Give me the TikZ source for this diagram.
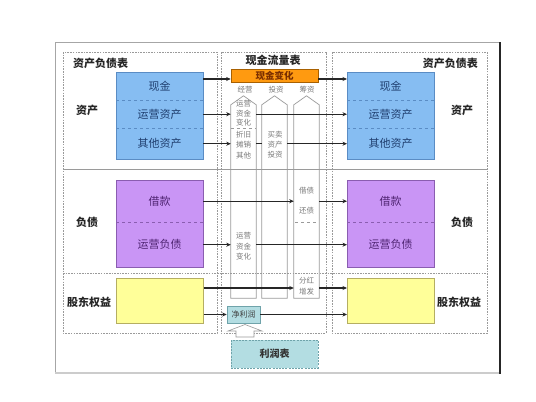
\documentclass[tikz,border=0pt]{standalone}
\usepackage{fontspec}
\newfontfamily\cjk{Noto Sans CJK SC}
\usetikzlibrary{arrows.meta,calc}
\definecolor{bluefill}{HTML}{86BDF2}
\definecolor{blueline}{HTML}{5A8CC4}
\definecolor{bluetext}{HTML}{1F3E6E}
\definecolor{purpfill}{HTML}{C995F5}
\definecolor{purpline}{HTML}{8A5DB0}
\definecolor{purptext}{HTML}{4F2472}
\definecolor{yellowfill}{HTML}{FFFF99}
\definecolor{yellowline}{HTML}{B5AE62}
\definecolor{orangefill}{HTML}{FF9A10}
\definecolor{orangeline}{HTML}{A86000}
\definecolor{orangetext}{HTML}{7A2E00}
\definecolor{tealfill}{HTML}{B3DDE2}
\definecolor{tealline}{HTML}{6FA3AA}
\definecolor{grayline}{HTML}{9A9A9A}
\definecolor{graytext}{HTML}{7A7A7A}
\begin{document}
\begin{tikzpicture}[x=1pt,y=-1pt,
  every node/.style={font=\cjk, inner sep=0pt},
  panel/.style={draw=grayline, dash pattern=on 1.6pt off 1.1pt, line width=0.6pt},
  cellbox/.style={minimum width=87pt, inner sep=0pt, anchor=north west, font=\cjk\fontsize{11}{13}\selectfont},
  bluecell/.style={cellbox, fill=bluefill, text=bluetext},
  purpcell/.style={cellbox, fill=purpfill, text=purptext},
  label/.style={font=\cjk\bfseries\fontsize{11}{13}\selectfont, text=black!85},
  coltext/.style={font=\cjk\fontsize{7.5}{10}\selectfont, text=graytext, align=center},
  colbox/.style={minimum width=25pt, minimum height=193pt, inner sep=0pt},
  colline/.style={draw=grayline, line width=0.7pt},
  arr/.style={line width=1.1pt, draw=black!85, -{Stealth[length=4.5pt,width=4pt]}},
  ln/.style={line width=1.1pt, draw=black!85}]
\useasboundingbox (0,0) rectangle (536,402);
\fill[white] (0,0) rectangle (536,402);
% outer frame
\draw[black!35, line width=0.6pt] (55,42) rectangle (500,373);
\draw[black!20, line width=2pt] (55,373) -- (500,373);
\draw[black!85, line width=1.6pt] (500,42) -- (500,374);
% panels
\draw[panel] (63,52) rectangle (217,333);
\draw[panel] (221,52) rectangle (326,333);
\draw[panel] (332,52) rectangle (487,333);
\draw[grayline, line width=0.6pt] (63,169) -- (487,169);
\draw[panel] (63,273) -- (487,273);
% row coordinates
\coordinate (rc) at (0,79);
\coordinate (re1) at (0,288);
% labels
\node[label, anchor=west] (tl) at (73,63) {资产负债表};
\node[label, anchor=east] (tr) at (478,63) {资产负债表};
\node[label] (mt) at (273,60) {现金流量表};
\node[label] (la) at (87,110) {资产};
\node[label] (ra) at (462,110) {资产};
\node[label] (ll) at (87,222) {负债};
\node[label] (rl) at (462,222) {负债};
\node[label] (le) at (89,302) {股东权益};
\node[label] (re) at (459,302) {股东权益};
% left boxes
\node[bluecell, minimum height=28pt] (L1) at (116,72) {现金};
\node[bluecell, minimum height=28pt] (L2) at (116,100) {运营资产};
\node[bluecell, minimum height=31pt] (L3) at (116,128) {其他资产};
\draw[blueline, line width=0.7pt] (L1.north west) rectangle (L3.south east);
\draw[blueline, dashed, line width=0.6pt] (L1.south west) -- (L1.south east);
\draw[blueline, dashed, line width=0.6pt] (L2.south west) -- (L2.south east);
\node[purpcell, minimum height=42pt] (P1) at (116,180) {借款};
\node[purpcell, minimum height=45pt] (P2) at (116,222) {运营负债};
\draw[purpline, line width=0.7pt] (P1.north west) rectangle (P2.south east);
\draw[purpline, dashed, line width=0.6pt] (P1.south west) -- (P1.south east);
\node[cellbox, minimum height=45pt, fill=yellowfill, draw=yellowline, line width=0.7pt] (Y) at (116,278) {};
% right boxes
\node[bluecell, minimum height=28pt] (R1) at (347,72) {现金};
\node[bluecell, minimum height=28pt] (R2) at (347,100) {运营资产};
\node[bluecell, minimum height=31pt] (R3) at (347,128) {其他资产};
\draw[blueline, line width=0.7pt] (R1.north west) rectangle (R3.south east);
\draw[blueline, dashed, line width=0.6pt] (R1.south west) -- (R1.south east);
\draw[blueline, dashed, line width=0.6pt] (R2.south west) -- (R2.south east);
\node[purpcell, minimum height=42pt] (Q1) at (347,180) {借款};
\node[purpcell, minimum height=45pt] (Q2) at (347,222) {运营负债};
\draw[purpline, line width=0.7pt] (Q1.north west) rectangle (Q2.south east);
\draw[purpline, dashed, line width=0.6pt] (Q1.south west) -- (Q1.south east);
\node[cellbox, minimum height=45pt, fill=yellowfill, draw=yellowline, line width=0.7pt] (RY) at (347,278) {};
% orange box
\node[minimum width=87pt, minimum height=13pt, fill=orangefill, draw=orangeline, line width=0.6pt,
  font=\cjk\bfseries\fontsize{9.5}{11}\selectfont, text=orangetext] (O) at (274.5,75.5) {现金变化};
% column headers
\node[coltext] (h1) at (245,90) {经营};
\node[coltext] (h2) at (276,90) {投资};
\node[coltext] (h3) at (307,90) {筹资};
% columns
\node[colbox] (C1) at (243.5,201.5) {};
\node[colbox] (C2) at (274.5,201.5) {};
\node[colbox] (C3) at (306.5,201.5) {};
\foreach \c in {C1,C2,C3}{
  \draw[colline] (\c.south west) -- (\c.north west) -- ($(\c.north)+(0,-9)$) -- (\c.north east) -- (\c.south east) -- cycle;
}
\draw[grayline, dashed, line width=0.5pt] (C1.west |- L2.south) -- (C1.east |- L2.south);
\node[coltext, font=\cjk\fontsize{7.5}{9.5}\selectfont] (t1) at (243.5,113.5) {运营\\资金\\变化};
\node[coltext, font=\cjk\fontsize{7.5}{10.8}\selectfont] (t2) at (243.5,145) {折旧\\摊销\\其他};
\node[coltext, font=\cjk\fontsize{7.5}{10.5}\selectfont] (t3) at (243.5,246.5) {运营\\资金\\变化};
\node[coltext, font=\cjk\fontsize{7.5}{10}\selectfont] (t4) at (275,145) {买卖\\资产\\投资};
\node[coltext] (t5) at (306.5,191) {借债};
\node[coltext] (t6) at (306.5,211) {还债};
\draw[grayline, dashed, line width=0.5pt] (295,222) -- (318,222);
\node[coltext, font=\cjk\fontsize{7.5}{11}\selectfont] (t7) at (306.5,286.5) {分红\\增发};
% net profit
\node[minimum width=33pt, minimum height=17pt, fill=tealfill, draw=tealline, line width=0.6pt,
  font=\cjk\fontsize{8}{10}\selectfont, text=black!75] (NP) at (243.5,314.5) {净利润};
% profit statement
\node[minimum width=87pt, minimum height=28pt, fill=tealfill, draw=tealline, dash pattern=on 2pt off 1.2pt, line width=0.7pt,
  font=\cjk\bfseries\fontsize{10}{12}\selectfont, text=black!80] (PS) at (274.5,354) {利润表};
% hollow arrow
\draw[grayline, line width=0.6pt, fill=white] (245,324.5) -- (262,331) -- (254,331) -- (254,337) -- (236,337) -- (236,331) -- (228,331) -- cycle;
% arrows
\draw[arr] (L1.east |- rc) -- (O.west |- rc);
\draw[arr] (O.east |- rc) -- (R1.west |- rc);
\draw[arr] (L2.east) -- (C1.west |- L2.east);
\draw[arr] (C1.east |- L2.east) -- (R2.west);
\draw[arr] (L3.east) -- (C1.west |- L3.east);
\draw[ln] (C1.east |- L3.east) -- (C2.west |- L3.east);
\draw[arr] (C2.east |- L3.east) -- (R3.west);
\draw[arr] (P1.east) -- (C3.west |- P1.east);
\draw[arr] (C3.east |- P1.east) -- (Q1.west);
\draw[arr] (P2.east) -- (C1.west |- P2.east);
\draw[arr] (C1.east |- P2.east) -- (Q2.west);
\draw[arr] (Y.east |- re1) -- (C3.west |- re1);
\draw[arr] (C3.east |- re1) -- (RY.west |- re1);
\draw[arr] (Y.east |- NP.west) -- (NP.west);
\draw[arr] (NP.east) -- (RY.west |- NP.east);
\end{tikzpicture}
\end{document}
